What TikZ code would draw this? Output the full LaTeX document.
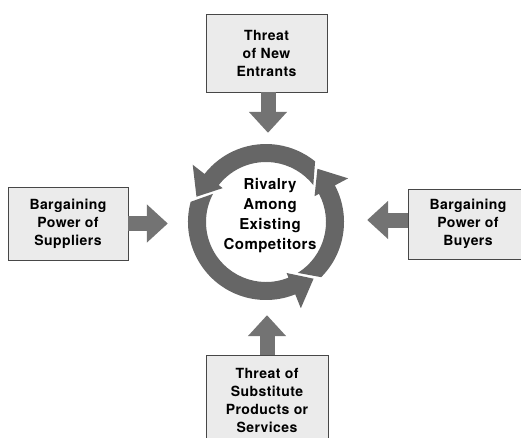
\documentclass[tikz,border=0pt]{standalone}
\usepackage{fontspec}
\setmainfont{TeX Gyre Heros}
\newfontfamily\labelfont{TeX Gyre Heros Bold}[LetterSpace=3]
\usetikzlibrary{arrows.meta}

\tikzset{
  force/.style={draw=black!72, fill=black!8, line width=0.9pt, align=center,
    inner sep=0pt, font=\labelfont\fontsize{14}{18}\selectfont},
  push/.style={draw=black!55, line width=15pt,
    -{Triangle[width=37pt,length=21pt]}},
  cycleseg/.style={fill=black!60, draw=none},
}

\begin{document}
\begin{tikzpicture}[x=1pt,y=1pt]
  \useasboundingbox (0,0) rectangle (521,437);
  \fill[white] (0,0) rectangle (521,437);

  % the four outside forces
  \node[force, minimum width=121pt, minimum height=78pt] (entrants) at (266.5,384)
    {Threat\\of New\\Entrants};
  \node[force, minimum width=120pt, minimum height=73pt] (suppliers) at (68,213.5)
    {Bargaining\\Power of\\Suppliers};
  \node[force, minimum width=120pt, minimum height=70pt] (buyers) at (468,213)
    {Bargaining\\Power of\\Buyers};
  \node[force, minimum width=122pt, minimum height=90pt] (substitutes) at (267,37)
    {Threat of\\Substitute\\Products or\\Services};

  % central rivalry ring
  \node[circle, minimum size=156pt, inner sep=0pt] (ring) at (266,215) {};
  \begin{scope}[shift={(ring.center)}]
    % upper segment, head on the left
    \path[cycleseg] (38:60) -- (51:78) arc[start angle=51, end angle=142, radius=78]
      -- (142:93) -- (160:74) -- (142:55) -- (142:60)
      arc[start angle=142, end angle=38, radius=60] -- cycle;
    % lower-left segment, head at the bottom
    \path[cycleseg] (152:60) -- (165:78) arc[start angle=165, end angle=292, radius=78]
      -- (292:93) -- (310:74) -- (292:55) -- (292:60)
      arc[start angle=292, end angle=152, radius=60] -- cycle;
    % right segment, head at the upper right
    \path[cycleseg] (302:60) -- (315:78) arc[start angle=315, end angle=388, radius=78]
      -- (388:93) -- (406:74) -- (388:55) -- (388:60)
      arc[start angle=388, end angle=302, radius=60] -- cycle;
  \end{scope}
  \node[align=center, font=\labelfont\fontsize{15}{20}\selectfont]
    (rivalry) at (270,221) {Rivalry\\Among\\Existing\\Competitors};

  % block arrows pointing at the ring
  \draw[push, shorten >=11pt] ([xshift=1.5pt]entrants.south) -- ([xshift=1.5pt]entrants.south |- ring.north);
  \draw[push, shorten >=20pt] (suppliers.east) -- (suppliers.east -| ring.west);
  \draw[push, shorten >=23pt] ([yshift=4pt]buyers.west) -- ([yshift=4pt]buyers.west -| ring.east);
  \draw[push, shorten >=15pt] (substitutes.north) -- (substitutes.north |- ring.south);
\end{tikzpicture}
\end{document}
